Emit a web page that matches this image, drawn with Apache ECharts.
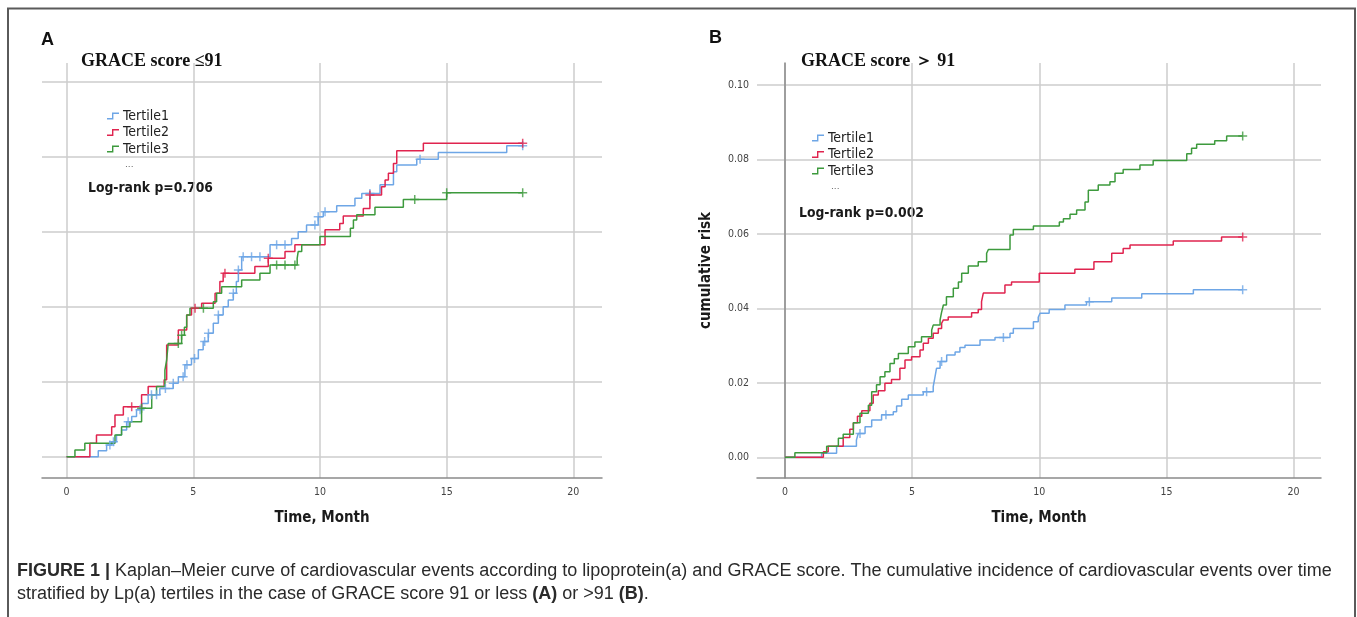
<!DOCTYPE html>
<html>
<head>
<meta charset="utf-8">
<script src="https://cdn.jsdelivr.net/npm/echarts@6/dist/echarts.min.js"></script>
<style>
  html, body { margin: 0; padding: 0; background: #fff; }
  #chart { width: 1357px; height: 617px; }
</style>
</head>
<body>
<div id="chart"></div>
<script>
// Time axis ticks (months) and risk axis ticks
const xTicks = [0, 5, 10, 15, 20];
const yTicks = [0, 0.02, 0.04, 0.06, 0.08, 0.1];
const tertiles = ["Tertile1", "Tertile2", "Tertile3"];

// Panel A: GRACE score <= 91, step points [month, cumulative risk]
const a_t1 = [[0,0],[1.25,0.0016],[1.58,0.0031],[1.78,0.004],[1.97,0.0058],[2.17,0.0071],[2.37,0.0093],[2.57,0.0107],[2.76,0.0125],[2.96,0.0142],[3.22,0.0165],[3.68,0.0182],[4.21,0.0196],[4.41,0.0213],[4.67,0.0245],[4.93,0.0262],[5.2,0.0285],[5.39,0.0307],[5.59,0.0329],[5.79,0.0356],[5.99,0.0378],[6.18,0.04],[6.38,0.0418],[6.58,0.0436],[6.7,0.0467],[6.78,0.0498],[6.91,0.0533],[8.03,0.0565],[8.88,0.0582],[9.14,0.06],[9.47,0.0618],[9.93,0.064],[10.13,0.0653],[10.66,0.0669],[11.38,0.0689],[11.65,0.0702],[12.37,0.0725],[12.9,0.076],[13.03,0.0778],[13.82,0.0793],[14.67,0.0811],[17.37,0.0829],[18,0.0829]];
const a_t2 = [[0,0],[0.92,0.0036],[1.18,0.0058],[1.78,0.008],[1.91,0.0111],[2.24,0.0133],[2.96,0.0165],[3.22,0.0187],[3.85,0.0205],[3.95,0.0298],[4.41,0.0338],[4.74,0.0378],[4.93,0.0396],[5.33,0.0409],[5.86,0.0436],[6.05,0.0467],[6.18,0.0489],[7.43,0.0507],[7.96,0.0529],[8.62,0.0547],[9.01,0.0565],[10.2,0.0605],[10.78,0.0622],[10.92,0.0642],[11.71,0.0662],[11.97,0.0698],[12.43,0.072],[12.57,0.0738],[12.7,0.0756],[12.9,0.0782],[13.03,0.0816],[14.08,0.0836],[18,0.0836]];
const a_t3 = [[0,0],[0.33,0.0018],[0.72,0.0036],[1.91,0.0058],[2.17,0.008],[2.5,0.0093],[2.96,0.0129],[3.36,0.0165],[3.55,0.0187],[3.88,0.0231],[3.95,0.0258],[4.01,0.0302],[4.54,0.0324],[4.65,0.0345],[4.74,0.0378],[4.87,0.0396],[5.79,0.0413],[5.92,0.0436],[6.12,0.0453],[6.91,0.0471],[7.63,0.0489],[8.03,0.0511],[9.1,0.0529],[9.14,0.0547],[9.28,0.0565],[10.0,0.0587],[11.2,0.0609],[11.32,0.0631],[11.45,0.0645],[12.17,0.0665],[13.29,0.0686],[15.0,0.0704],[18,0.0704]];
const a_c1 = [1.71,1.85,2.43,2.9,3.35,3.55,3.9,4.21,4.6,4.75,5.05,5.45,5.6,5.99,6.58,6.78,6.97,7.3,7.63,8.29,8.62,9.8,9.93,10.2,11.97,13.95,18];
const a_c2 = [2.57,5.07,6.25,7.96,11.97,18];
const a_c3 = [2.96,4.41,4.54,5.4,8.29,8.62,9.01,13.74,15.0,18];

// Panel B: GRACE score > 91
const b_t1 = [[0,0],[1.44,0.0011],[2.03,0.003],[2.81,0.0046],[2.88,0.0064],[3.15,0.0082],[3.41,0.01],[3.8,0.0114],[4.26,0.0122],[4.39,0.0138],[4.59,0.0156],[4.85,0.0167],[5.44,0.0176],[5.83,0.019],[5.9,0.0216],[5.96,0.0239],[6.1,0.0257],[6.36,0.0275],[6.69,0.0283],[6.88,0.0295],[7.08,0.0301],[7.67,0.0315],[8.26,0.0322],[8.85,0.0333],[8.98,0.0346],[9.77,0.0364],[9.96,0.0376],[10.03,0.0387],[10.39,0.0397],[11.01,0.0409],[11.86,0.0418],[12.85,0.0428],[14.03,0.0439],[16.06,0.045],[18,0.045]];
const b_t2 = [[0,0],[1.51,0.0015],[1.7,0.003],[2.29,0.0053],[2.55,0.0075],[2.69,0.0093],[2.85,0.011],[3.02,0.0125],[3.34,0.0145],[3.47,0.0167],[3.67,0.0179],[3.93,0.0199],[4.19,0.0209],[4.52,0.0239],[4.72,0.0261],[4.98,0.027],[5.31,0.0288],[5.44,0.0306],[5.64,0.032],[5.83,0.0333],[6.03,0.0346],[6.16,0.036],[6.23,0.0369],[6.42,0.0377],[7.34,0.0388],[7.6,0.0397],[7.73,0.0418],[7.8,0.0441],[8.65,0.0463],[8.91,0.0471],[10.0,0.0494],[11.4,0.0505],[12.15,0.0525],[12.85,0.0548],[13.3,0.0561],[13.57,0.057],[15.27,0.0581],[17.17,0.0592],[18,0.0592]];
const b_t3 = [[0,0],[0.39,0.0012],[1.64,0.003],[2.1,0.0051],[2.29,0.0062],[2.69,0.0093],[2.95,0.0118],[3.28,0.014],[3.41,0.0176],[3.6,0.0195],[3.74,0.0216],[3.93,0.023],[4.13,0.0252],[4.3,0.0265],[4.46,0.0279],[4.85,0.0297],[5.11,0.031],[5.37,0.0324],[5.77,0.0342],[5.83,0.0355],[6.1,0.0369],[6.16,0.039],[6.23,0.0409],[6.35,0.0431],[6.62,0.0454],[6.82,0.0471],[6.95,0.0494],[7.21,0.0514],[7.6,0.0525],[7.93,0.0548],[8.0,0.0558],[8.85,0.0597],[8.98,0.0612],[9.77,0.0621],[10.79,0.0632],[10.95,0.0641],[11.21,0.0653],[11.47,0.0664],[11.8,0.0686],[11.93,0.0717],[12.32,0.0731],[12.78,0.074],[12.98,0.0763],[13.3,0.0773],[13.96,0.0785],[14.48,0.0797],[15.8,0.0815],[15.99,0.083],[16.19,0.0841],[16.9,0.085],[17.37,0.0863],[18,0.0863]];
const b_c1 = [2.95,3.97,5.57,6.16,8.59,11.97,18];
const b_c2 = [18];
const b_c3 = [18];

const colors = ["#6ea6e6", "#e0244f", "#3d9a3d"];
const gridColor = "#cdcdcd";
const axisColor = "#8a8a8a";
const condensed = "'DejaVu Sans Condensed', 'Liberation Sans Narrow', 'DejaVu Sans', sans-serif";

// value of the step curve at a censoring time
function riskAt(steps, t) {
  let v = 0;
  for (const p of steps) {
    if (p[0] <= t) v = p[1];
  }
  return v;
}

const plus = "path://M4,0h1.6v4h4v1.6h-4v4h-1.6v-4h-4v-1.6h4z";
const stepIcon = "path://M0,5.6H5V0H12V1.4H6.4V7H0Z";

function panelSeries(idx, curves, censors) {
  const out = [];
  curves.forEach((c, i) => {
    out.push({
      name: tertiles[i], type: "line", step: "end", symbol: "none",
      xAxisIndex: idx, yAxisIndex: idx, data: c,
      color: colors[i],
      lineStyle: { width: 1.5, color: colors[i] },
      z: 3 + i
    });
  });
  censors.forEach((cs, i) => {
    out.push({
      name: tertiles[i] + " censored", type: "scatter",
      xAxisIndex: idx, yAxisIndex: idx,
      symbol: plus, symbolSize: 9,
      itemStyle: { color: colors[i] },
      data: cs.map(t => [t, riskAt(curves[i], t)]),
      z: 6
    });
  });
  return out;
}

function xAxisFor(idx, min, max) {
  return {
    type: "value", gridIndex: idx, min: min, max: max,
    name: "Time, Month", nameLocation: "middle", nameGap: 33,
    nameTextStyle: { fontFamily: condensed, fontWeight: "bold", fontSize: 15, color: "#1a1a1a" },
    axisLine: { show: true, onZero: false, lineStyle: { color: axisColor, width: 1.5 } },
    axisTick: { show: false, customValues: xTicks },
    axisLabel: { customValues: xTicks, fontFamily: condensed, fontSize: 10.5, color: "#444", margin: 9 },
    splitLine: { show: true, lineStyle: { color: gridColor, width: 1.5 } }
  };
}

const legendText = { fontFamily: condensed, fontSize: 14, color: "#222", padding: [0, 0, 0, -1], lineHeight: 14 };

const chart = echarts.init(document.getElementById("chart"), null, { renderer: "canvas" });

chart.setOption({
  animation: false,
  backgroundColor: "#fff",
  title: [
    { text: "A", left: 41, top: 31, padding: 0, textStyle: { fontFamily: "'Liberation Sans', Arial", fontWeight: "bold", fontSize: 18, color: "#111" } },
    { text: "B", left: 709, top: 29, padding: 0, textStyle: { fontFamily: "'Liberation Sans', Arial", fontWeight: "bold", fontSize: 18, color: "#111" } },
    { text: "GRACE score \u226491", left: 81, top: 52, padding: 0, textStyle: { fontFamily: "'Liberation Serif', 'Times New Roman', serif", fontWeight: "bold", fontSize: 18, color: "#111" } },
    { text: "GRACE score \uff1e 91", left: 801, top: 52, padding: 0, textStyle: { fontFamily: "'Liberation Serif', 'Times New Roman', serif", fontWeight: "bold", fontSize: 18, color: "#111" } }
  ],
  legend: [
    { data: tertiles, orient: "vertical", left: 107, top: 109, padding: 0, itemGap: 2.5,
      itemWidth: 12, itemHeight: 7, icon: stepIcon, selectedMode: false, textStyle: legendText },
    { data: tertiles, orient: "vertical", left: 812, top: 131, padding: 0, itemGap: 2.5,
      itemWidth: 12, itemHeight: 7, icon: stepIcon, selectedMode: false, textStyle: legendText }
  ],
  grid: [
    { left: 42, top: 63, width: 560, height: 415, containLabel: false },
    { left: 757, top: 63, width: 564, height: 415, containLabel: false }
  ],
  xAxis: [xAxisFor(0, -0.97, 21.13), xAxisFor(1, -1.1, 21.08)],
  yAxis: [
    { type: "value", gridIndex: 0, min: -0.00568, max: 0.105,
      axisLine: { show: false }, axisTick: { show: false, customValues: yTicks },
      axisLabel: { show: false, customValues: yTicks },
      splitLine: { show: true, lineStyle: { color: gridColor, width: 1.5 } } },
    { type: "value", gridIndex: 1, min: -0.00556, max: 0.1059,
      name: "cumulative risk", nameLocation: "middle", nameGap: 43, nameRotate: 90,
      nameTextStyle: { fontFamily: condensed, fontWeight: "bold", fontSize: 15, color: "#1a1a1a" },
      axisLine: { show: true, lineStyle: { color: axisColor, width: 1.5 } },
      axisTick: { show: false, customValues: yTicks },
      axisLabel: { customValues: yTicks, formatter: v => v.toFixed(2), fontFamily: condensed, fontSize: 10.5, color: "#444", margin: 8 },
      splitLine: { show: true, lineStyle: { color: gridColor, width: 1.5 } } }
  ],
  graphic: [
    { type: "rect", shape: { x: 8, y: 8.5, width: 1347, height: 640 }, style: { fill: "none", stroke: "#5a5a5a", lineWidth: 2 }, silent: true },
    { type: "text", left: 125, top: 160, style: { text: "...", font: "9px 'DejaVu Sans'", fill: "#666" } },
    { type: "text", left: 831, top: 182, style: { text: "...", font: "9px 'DejaVu Sans'", fill: "#666" } },
    { type: "text", left: 88, top: 181, style: { text: "Log-rank p=0.706", font: "bold 13.8px " + condensed, fill: "#1a1a1a" } },
    { type: "text", left: 799, top: 206, style: { text: "Log-rank p=0.002", font: "bold 13.8px " + condensed, fill: "#1a1a1a" } },
    { type: "text", left: 17, top: 562, style: {
        text: "{b|FIGURE 1 |} Kaplan\u2013Meier curve of cardiovascular events according to lipoprotein(a) and GRACE score. The cumulative incidence of cardiovascular events over time",
        font: "18px 'Liberation Sans', Arial", fill: "#2a2a2a",
        rich: { b: { fontWeight: "bold", fontSize: 18, fontFamily: "'Liberation Sans', Arial" } } } },
    { type: "text", left: 17, top: 585, style: {
        text: "stratified by Lp(a) tertiles in the case of GRACE score 91 or less {b|(A)} or >91 {b|(B)}.",
        font: "18px 'Liberation Sans', Arial", fill: "#2a2a2a",
        rich: { b: { fontWeight: "bold", fontSize: 18, fontFamily: "'Liberation Sans', Arial" } } } }
  ],
  series: panelSeries(0, [a_t1, a_t2, a_t3], [a_c1, a_c2, a_c3])
    .concat(panelSeries(1, [b_t1, b_t2, b_t3], [b_c1, b_c2, b_c3]))
});
</script>
</body>
</html>
